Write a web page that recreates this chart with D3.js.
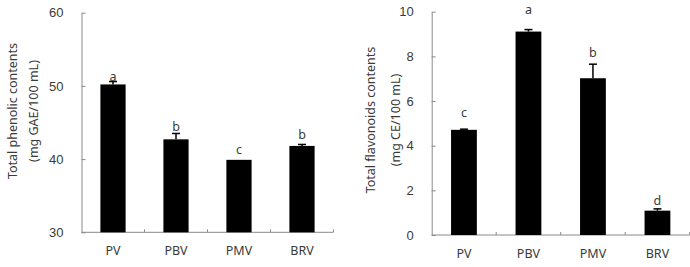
<!DOCTYPE html>
<html>
<head>
<meta charset="utf-8">
<script src="https://cdn.jsdelivr.net/npm/d3@7"></script>
<style>
  body { margin: 0; background: #fff; }
  svg { display: block; }
</style>
</head>
<body>
<div id="chart"></div>
<script>
// categories shared by both panels
const categories = ['PV', 'PBV', 'PMV', 'BRV'];

// left panel: total phenolic contents
const phenolValues = [50.2, 42.7, 39.9, 41.8];
const phenolErrors = [0.4, 0.8, 0, 0.2];
const phenolLetters = ['a', 'b', 'c', 'b'];
const phenolLetterAt = [51.3, 44.4, 41.3, 43.4];
const phenolTicks = [30, 40, 50, 60];

// right panel: total flavonoids contents
const flavValues = [4.71, 9.11, 7.02, 1.09];
const flavErrors = [0.03, 0.09, 0.63, 0.08];
const flavLetters = ['c', 'a', 'b', 'd'];
const flavLetterAt = [5.47, 10.1, 8.16, 1.53];
const flavTicks = [0, 2, 4, 6, 8, 10];

const W = 690, H = 267;
const axisColor = '#8a8a8a';
const textColor = '#3a3a3a';
const labelFont = '"Noto Sans", "Open Sans", sans-serif';
const tickFont = '"Liberation Sans", Arial, sans-serif';

const svg = d3.select('#chart').append('svg')
  .attr('width', W)
  .attr('height', H);

function drawPanel(cfg) {
  const g = svg.append('g');

  const x = d3.scaleBand()
    .domain(categories)
    .range([cfg.left, cfg.right])
    .paddingInner(0.6)
    .paddingOuter(0.3);

  const y = d3.scaleLinear()
    .domain(cfg.domain)
    .range([cfg.bottom, cfg.top]);

  // y axis with inward ticks
  const yAxis = d3.axisLeft(y)
    .tickValues(cfg.ticks)
    .tickSizeInner(-4)
    .tickSizeOuter(0)
    .tickPadding(18);

  const ya = g.append('g')
    .attr('transform', `translate(${cfg.left},0)`)
    .call(yAxis);
  ya.select('.domain').attr('stroke', axisColor);
  ya.selectAll('.tick line').attr('stroke', axisColor);
  ya.selectAll('.tick text')
    .attr('fill', textColor)
    .style('font-family', tickFont)
    .style('font-size', '13px');

  // x axis line + small upward ticks at band boundaries
  g.append('line')
    .attr('x1', cfg.left).attr('x2', cfg.right)
    .attr('y1', cfg.bottom).attr('y2', cfg.bottom)
    .attr('stroke', axisColor);

  const step = x.step();
  categories.forEach(c => {
    const bx = x(c) + x.bandwidth() + step * 0.3;
    g.append('line')
      .attr('x1', bx).attr('x2', bx)
      .attr('y1', cfg.bottom).attr('y2', cfg.bottom - 3)
      .attr('stroke', axisColor);
  });

  // category labels
  g.selectAll('.cat')
    .data(categories)
    .join('text')
    .attr('class', 'cat')
    .attr('x', d => x(d) + x.bandwidth() / 2)
    .attr('y', cfg.catY)
    .attr('text-anchor', 'middle')
    .attr('dominant-baseline', 'central')
    .attr('fill', textColor)
    .style('font-family', labelFont)
    .style('font-size', '12.5px')
    .text(d => d);

  // bars
  g.selectAll('.bar')
    .data(cfg.values)
    .join('rect')
    .attr('class', 'bar')
    .attr('x', (d, i) => x(categories[i]))
    .attr('y', d => y(d))
    .attr('width', x.bandwidth())
    .attr('height', d => cfg.bottom - y(d))
    .attr('fill', '#000');

  // upper error whiskers
  cfg.values.forEach((v, i) => {
    if (!cfg.errors[i]) return;
    const cx = x(categories[i]) + x.bandwidth() / 2;
    const top = y(v + cfg.errors[i]);
    g.append('line')
      .attr('x1', cx).attr('x2', cx)
      .attr('y1', y(v)).attr('y2', top)
      .attr('stroke', '#000').attr('stroke-width', 1.5);
    g.append('line')
      .attr('x1', cx - 4).attr('x2', cx + 4)
      .attr('y1', top).attr('y2', top)
      .attr('stroke', '#000').attr('stroke-width', 1.5);
  });

  // significance letters
  g.selectAll('.letter')
    .data(cfg.letters)
    .join('text')
    .attr('class', 'letter')
    .attr('x', (d, i) => x(categories[i]) + x.bandwidth() / 2)
    .attr('y', (d, i) => y(cfg.letterAt[i]))
    .attr('text-anchor', 'middle')
    .attr('dominant-baseline', 'central')
    .attr('fill', textColor)
    .style('font-family', labelFont)
    .style('font-size', '12.5px')
    .text(d => d);

  // axis titles (two rotated lines)
  cfg.titles.forEach((t, i) => {
    g.append('text')
      .attr('transform', `translate(${cfg.titleX[i]},${cfg.titleY}) rotate(-90)`)
      .attr('text-anchor', 'middle')
      .attr('dominant-baseline', 'central')
      .attr('fill', textColor)
      .style('font-family', labelFont)
      .style('font-size', '12.5px')
      .text(t);
  });
}

drawPanel({
  left: 81.5, right: 333.5, top: 12.7, bottom: 232.3,
  domain: [30, 60], ticks: phenolTicks,
  values: phenolValues, errors: phenolErrors,
  letters: phenolLetters, letterAt: phenolLetterAt,
  catY: 250,
  titles: ['Total  phenolic  contents', '(mg  GAE/100  mL)'],
  titleX: [12, 33], titleY: 111
});

drawPanel({
  left: 431.7, right: 689.7, top: 11.7, bottom: 235,
  domain: [0, 10], ticks: flavTicks,
  values: flavValues, errors: flavErrors,
  letters: flavLetters, letterAt: flavLetterAt,
  catY: 253,
  titles: ['Total  flavonoids  contents', '(mg  CE/100  mL)'],
  titleX: [370, 395], titleY: 120
});
</script>
</body>
</html>
